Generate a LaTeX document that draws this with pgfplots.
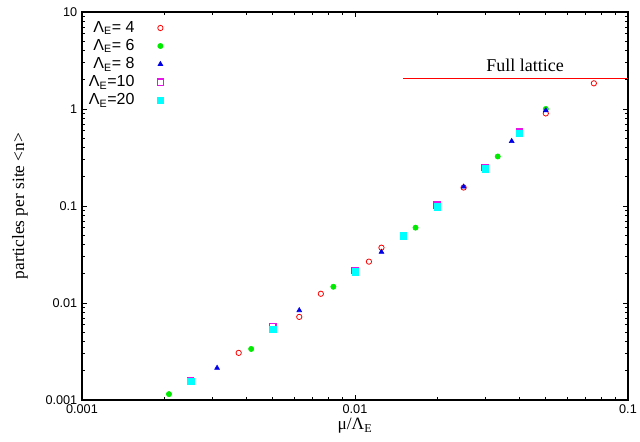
\documentclass[border=0pt]{standalone}
\usepackage{pgfplots}
\pgfplotsset{compat=1.18}
\usepackage{fontspec}
\setmainfont{Liberation Serif}
\newfontfamily\arial{Liberation Sans}
\definecolor{gred}{RGB}{255,0,0}
\definecolor{ggreen}{RGB}{0,235,0}
\definecolor{gblue}{RGB}{0,0,230}
\definecolor{pinkmag}{RGB}{230,20,230}
\definecolor{gcyan}{RGB}{0,255,255}
\begin{document}
\begin{tikzpicture}
\begin{axis}[
  scale only axis,
  width=409.5pt, height=291pt,
  xmode=log, ymode=log,
  xmin=0.001, xmax=0.1, ymin=0.001, ymax=10,
  xtick={0.001,0.01,0.1}, xticklabels={0.001,0.01,0.1},
  ytick={0.001,0.01,0.1,1,10}, yticklabels={0.001,0.01,0.1,1,10},
  /pgf/number format/assume math mode=true,
  tick label style={font=\arial\fontsize{9.5}{11}\selectfont},
  tick align=inside,
  major tick length=4pt, minor tick length=2pt,
  axis line style={line width=1.1pt},
  every tick/.style={black, line width=0.6pt},
  xlabel={μ/Λ\textsubscript{E}},
  ylabel={particles per site <n>},
  label style={font=\fontsize{13}{15}\selectfont},
  xlabel style={at={(axis description cs:0.5,-0.035)}, anchor=north},
  ylabel style={at={(axis description cs:-0.1136,0.5)}, anchor=center},
  legend cell align=right,
  legend plot pos=right,
  legend style={draw=none, fill=none, font=\arial\fontsize{12}{14}\selectfont,
    at={(axis description cs:0.0,0.99)}, anchor=north west, row sep=-0.3pt, column sep=15pt},
]
\addplot[only marks, mark=o, color=gred, mark size=2pt, mark options={line width=0.6pt}] coordinates {
(0.00375,0.00306)(0.00625,0.00719)(0.0075,0.01245)(0.01125,0.0267)(0.0125,0.0372)(0.025,0.155)(0.05,0.90)(0.075,1.84)};
\addlegendentry{Λ\textsubscript{E}= 4}
\addplot[only marks, mark=*, color=ggreen, mark size=2pt] coordinates {
(0.002083,0.00115)(0.004167,0.00336)(0.008333,0.0147)(0.016667,0.0598)(0.033333,0.324)(0.05,1.0)};
\addlegendentry{Λ\textsubscript{E}= 6}
\addplot[only marks, mark=triangle*, color=gblue, mark size=2.1pt] coordinates {
(0.003125,0.00214)(0.00625,0.0084)(0.0125,0.0336)(0.025,0.158)(0.0375,0.466)(0.05,0.968)};
\addlegendentry{Λ\textsubscript{E}= 8}
\addplot[only marks, mark=square, color=pinkmag, mark size=2.3pt, mark options={draw=pinkmag, line width=1.1pt}] coordinates {
(0.0025,0.00156)(0.005,0.00572)(0.01,0.0217)(0.02,0.1017)(0.03,0.249)(0.04,0.578)};
\addlegendentry{Λ\textsubscript{E}=10}
\addplot[only marks, mark=square*, color=gcyan, mark size=2.4pt] coordinates {
(0.0025,0.00155)(0.005,0.00537)(0.01,0.0209)(0.015,0.0495)(0.02,0.098)(0.03,0.242)(0.04,0.560)};
\addlegendentry{Λ\textsubscript{E}=20}
\addplot[color=gred, line width=0.6pt, forget plot] coordinates {(0.015,2.05)(0.1,2.05)};
\node[font=\fontsize{13.5}{15}\selectfont] at (axis cs:0.042,2.85) {Full lattice};
\end{axis}
\pgfresetboundingbox
\path[use as bounding box] ([shift={(-61.5pt,-31.5pt)}]current axis.south west) rectangle ([shift={(9pt,9pt)}]current axis.north east);
\end{tikzpicture}
\end{document}
